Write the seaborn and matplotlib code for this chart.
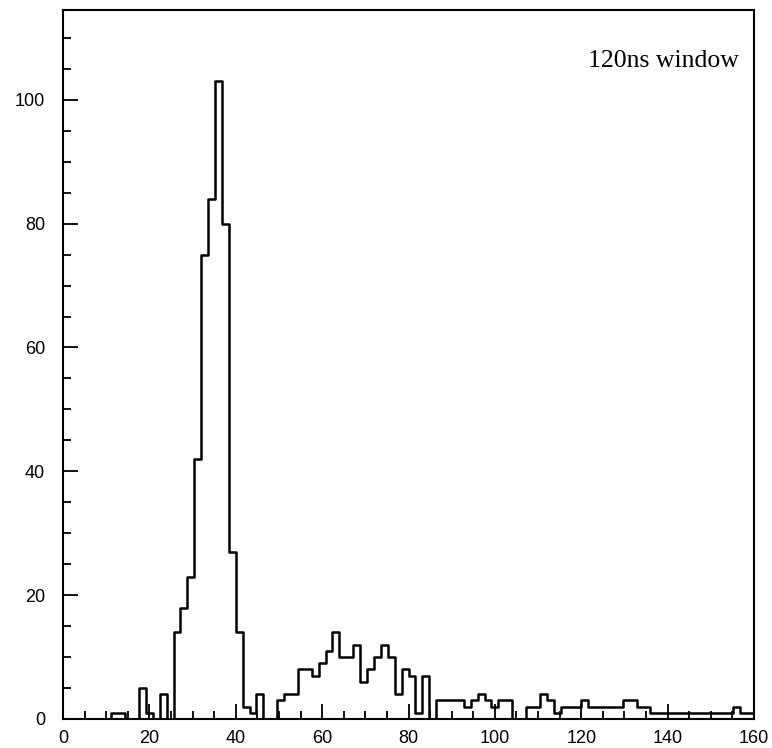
import numpy as np
import pandas as pd
import seaborn as sns
import matplotlib
matplotlib.use("Agg")
import matplotlib.pyplot as plt
from matplotlib.ticker import MultipleLocator

# ---- data (100 bins of width 1.6 from 0 to 160) ----
bin_lo = 0.0
bin_hi = 160.0
n_bins = 100
counts = [
    0, 0, 0, 0, 0, 0, 0, 1, 1, 0,      # 0-9
    0, 5, 1, 0, 4, 0, 14, 18, 23, 42,  # 10-19
    75, 84, 103, 80, 27, 14, 2, 1, 4, 0,  # 20-29
    0, 3, 4, 4, 8, 8, 7, 9, 11, 14,    # 30-39
    10, 10, 12, 6, 8, 10, 12, 10, 4, 8,  # 40-49
    7, 1, 7, 0, 3, 3, 3, 3, 2, 3,      # 50-59
    4, 3, 2, 3, 3, 0, 0, 2, 2, 4,      # 60-69
    3, 1, 2, 2, 2, 3, 2, 2, 2, 2,      # 70-79
    2, 3, 3, 2, 2, 1, 1, 1, 1, 1,      # 80-89
    1, 1, 1, 1, 1, 1, 1, 2, 1, 1,      # 90-99
]
annotation = "120ns window"
x_ticks = [0, 20, 40, 60, 80, 100, 120, 140, 160]
y_ticks = [0, 20, 40, 60, 80, 100]

edges = np.linspace(bin_lo, bin_hi, n_bins + 1)
centers = (edges[:-1] + edges[1:]) / 2
df = pd.DataFrame({"t": centers, "n": counts})

sns.set_style("white")
plt.rcParams["font.family"] = ["Liberation Sans", "DejaVu Sans"]

fig = plt.figure(figsize=(7.72, 7.48), dpi=100)
ax = fig.add_axes([0.0816, 0.0388, 0.8951, 0.9478])

sns.histplot(data=df, x="t", weights="n", binwidth=(bin_hi - bin_lo) / n_bins,
             binrange=(bin_lo, bin_hi), element="step",
             fill=False, color="black", linewidth=1.8, ax=ax)

ax.set_xlim(0, 160)
ax.set_ylim(0, 114.5)
ax.set_xticks(x_ticks)
ax.set_yticks(y_ticks)
ax.xaxis.set_minor_locator(MultipleLocator(5))
ax.yaxis.set_minor_locator(MultipleLocator(5))
ax.tick_params(which="both", direction="in", top=False, right=False,
               left=True, bottom=True, color="black", width=1.3,
               labelcolor="black")
ax.tick_params(which="major", length=11)
ax.tick_params(which="minor", length=6)
ax.tick_params(axis="y", which="major", pad=13, labelsize=13)
ax.tick_params(axis="x", which="major", pad=8, labelsize=13)
ax.set_xlabel("")
ax.set_ylabel("")
for s in ax.spines.values():
    s.set_color("black")
    s.set_linewidth(1.5)
    s.set_visible(True)

ax.text(139, 106.3, annotation, ha="center", va="center", fontsize=18.5,
        color="black", family=["Liberation Serif", "DejaVu Serif"])

fig.savefig("out.png", dpi=100)
